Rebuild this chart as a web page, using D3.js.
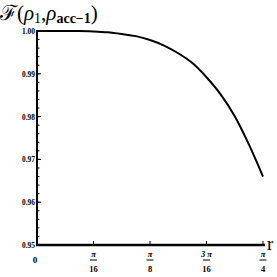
<!DOCTYPE html>
<html><head><meta charset="utf-8">
<script src="https://cdn.jsdelivr.net/npm/d3@7"></script>
<style>html,body{margin:0;padding:0;background:#fff;}svg{display:block;}</style>
</head><body>
<script>
const PI = Math.PI;
// curve samples r = k*pi/64
const rValues = [0,1,2,3,4,5,6,7,8,9,10,11,12,13,14,15,16].map(k => k*PI/64);
const fValues = [1.0000,1.0000,1.0000,1.0000,0.9999,0.9997,0.9993,0.9988,0.9979,0.9966,0.9948,0.9925,0.9892,0.9852,0.9801,0.9735,0.9660];
const xTickValues = [0, PI/16, PI/8, 3*PI/16, PI/4];
const xTickNums = ["0", "π", "π", "3 π", "π"];
const xTickDens = ["", "16", "8", "16", "4"];
const yTickValues = [0.95, 0.96, 0.97, 0.98, 0.99, 1.00];
const yTickLabels = ["0.95", "0.96", "0.97", "0.98", "0.99", "1.00"];
const yMinorTicks = d3.range(0, 26).map(i => 0.95 + i*0.002);

const W = 277, H = 277;
const svg = d3.select("body").append("svg").attr("width", W).attr("height", H);
const x = d3.scaleLinear().domain([0, PI/4]).range([37, 263]);
const y = d3.scaleLinear().domain([0.95, 1.0]).range([245, 31]);
const font = "'Liberation Serif','Times New Roman',serif";

// minor y ticks
svg.append("g").selectAll("line").data(yMinorTicks).join("line")
  .attr("x1", 37).attr("x2", 39.5).attr("y1", d => y(d)).attr("y2", d => y(d))
  .attr("stroke", "#000").attr("stroke-width", 1);
// major y ticks
svg.append("g").selectAll("line").data(yTickValues).join("line")
  .attr("x1", 37).attr("x2", 41).attr("y1", d => y(d)).attr("y2", d => y(d))
  .attr("stroke", "#000").attr("stroke-width", 1);
svg.append("g").selectAll("text").data(yTickValues).join("text")
  .attr("x", 35).attr("y", d => y(d) + 3)
  .attr("text-anchor", "end")
  .attr("font-family", font).attr("font-size", 8.5).attr("font-weight", "bold")
  .attr("textLength", 13).attr("lengthAdjust", "spacingAndGlyphs")
  .text((d, i) => yTickLabels[i]);

// x ticks
svg.append("g").selectAll("line").data(xTickValues.slice(1)).join("line")
  .attr("x1", d => x(d)).attr("x2", d => x(d)).attr("y1", 245).attr("y2", 241)
  .attr("stroke", "#000").attr("stroke-width", 1);

const xl = svg.append("g");
xTickValues.forEach((v, i) => {
  const cx = v === 0 ? 35 : x(v);
  if (xTickDens[i] === "") {
    xl.append("text").attr("x", cx).attr("y", 263).attr("text-anchor", "middle")
      .attr("font-family", font).attr("font-size", 9).attr("font-weight", "bold").text(xTickNums[i]);
  } else {
    xl.append("text").attr("x", cx).attr("y", 257).attr("text-anchor", "middle")
      .attr("font-family", font).attr("font-size", 8.5).attr("font-style", "italic").attr("font-weight", "bold").text(xTickNums[i]);
    xl.append("line").attr("x1", cx - 3.5).attr("x2", cx + 3.5).attr("y1", 260).attr("y2", 260)
      .attr("stroke", "#000").attr("stroke-width", 1);
    xl.append("text").attr("x", cx).attr("y", 272).attr("text-anchor", "middle")
      .attr("font-family", font).attr("font-size", 8.5).attr("font-weight", "bold").text(xTickDens[i]);
  }
});

// axes
svg.append("line").attr("x1", 37).attr("x2", 37).attr("y1", 30).attr("y2", 246)
  .attr("stroke", "#000").attr("stroke-width", 2);
svg.append("line").attr("x1", 36).attr("x2", 265).attr("y1", 245).attr("y2", 245)
  .attr("stroke", "#000").attr("stroke-width", 2.5);

// curve
const line = d3.line().x((d, i) => x(rValues[i])).y(d => y(d)).curve(d3.curveMonotoneX);
svg.append("path").datum(fValues).attr("d", line)
  .attr("fill", "none").attr("stroke", "#000").attr("stroke-width", 2);

// axis label r
svg.append("text").attr("x", 267).attr("y", 250).attr("font-family", font)
  .attr("font-size", 19).text("r");

// title
const t = svg.append("text").attr("x", 0).attr("y", 20).attr("font-family", font).attr("font-size", 21);
t.append("tspan").text("ℱ");
t.append("tspan").text("(");
t.append("tspan").attr("font-style", "italic").text("ρ");
t.append("tspan").attr("font-size", 14).attr("dy", 3).text("1");
t.append("tspan").attr("dy", -3).text(",");
t.append("tspan").attr("font-style", "italic").text("ρ");
t.append("tspan").attr("font-size", 14).attr("font-weight", "bold").attr("dy", 3).text("acc−1");
t.append("tspan").attr("dy", -3).text(")");
</script>
</body></html>
